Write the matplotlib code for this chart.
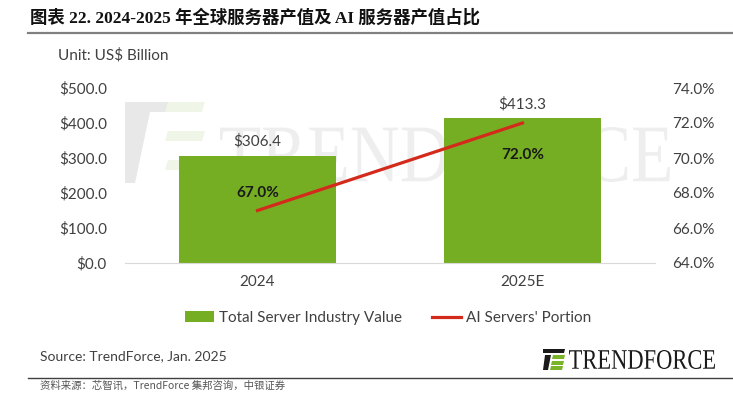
import matplotlib.pyplot as plt
import numpy as np
from matplotlib.textpath import TextPath
from matplotlib.patches import PathPatch, Polygon
from matplotlib.transforms import Affine2D, IdentityTransform
from matplotlib.font_manager import FontProperties
from matplotlib.lines import Line2D
from matplotlib.patches import Patch

years = ['2024', '2025E']
server_value = [306.4, 413.3]
ai_portion = [67.0, 72.0]
value_labels = ['$306.4', '$413.3']
portion_labels = ['67.0%', '72.0%']

green = '#75ae22'
red = '#d42a1c'
txt = '#404040'
font = 'Lato'

W, H = 733, 394
fig = plt.figure(figsize=(W / 100, H / 100), dpi=100)


def word(text, x0, y0, w, h, color, family='Liberation Serif', zorder=0, alpha=1.0):
    # text stretched into a pixel box (top-left origin)
    tp = TextPath((0, 0), text, size=1, prop=FontProperties(family=family))
    bb = tp.get_extents()
    tr = Affine2D().translate(-bb.x0, -bb.y0).scale(w / bb.width, h / bb.height).translate(x0, H - y0 - h)
    fig.patches.append(PathPatch(tr.transform_path(tp), transform=IdentityTransform(),
                                 fc=color, ec='none', zorder=zorder, alpha=alpha))


def poly(pts, color, zorder=0, alpha=1.0):
    pts = [(x, H - y) for x, y in pts]
    fig.patches.append(Polygon(pts, closed=True, transform=IdentityTransform(),
                               fc=color, ec='none', zorder=zorder, alpha=alpha))


# watermark
poly([(125, 102), (175, 102), (170, 112), (150, 112), (135, 183), (125, 183)], '#e8e8e8')
for yy in (102, 131, 160):
    poly([(168, yy), (205, yy), (202, yy + 10), (165, yy + 10)], '#f0f6e7')
word('TRENDFORCE', 220, 127, 450, 55, '#eeeeee')

ax = fig.add_axes([125 / W, 1 - 263 / H, 530 / W, 175 / H])
ax.set_zorder(2)
ax.patch.set_alpha(0)
x = np.arange(len(years))
ax.bar(x, server_value, width=0.59, color=green, zorder=2)
ax.set_xlim(-0.5, 1.5)
ax.set_ylim(0, 500)
ax.set_yticks(np.arange(0, 501, 100))
ax.set_yticklabels(['${:.1f}'.format(v) for v in np.arange(0, 501, 100)])
ax.set_xticks(x)
ax.set_xticklabels(years)
for s in ['top', 'right', 'left']:
    ax.spines[s].set_visible(False)
ax.spines['bottom'].set_color('#d9d9d9')
ax.tick_params(axis='y', length=0, pad=13, labelsize=11, labelcolor=txt)
ax.tick_params(axis='x', length=0, pad=9, labelsize=11, labelcolor=txt)
for lab in ax.get_xticklabels() + ax.get_yticklabels():
    lab.set_fontfamily(font)

ax2 = ax.twinx()
ax2.plot(x, ai_portion, color=red, lw=2.3, zorder=3)
ax2.set_ylim(64, 74)
ax2.set_yticks(np.arange(64, 74.1, 2))
ax2.set_yticklabels(['{:.1f}%'.format(v) for v in np.arange(64, 74.1, 2)])
for s in ax2.spines.values():
    s.set_visible(False)
ax2.tick_params(axis='y', length=0, pad=12, labelsize=11, labelcolor=txt)
for lab in ax2.get_yticklabels():
    lab.set_fontfamily(font)

for i in range(len(years)):
    ax.text(x[i], server_value[i] + 20, value_labels[i], ha='center', va='bottom',
            fontsize=11, color=txt, family=font)

ax2.text(x[0], ai_portion[0] + 1.0, portion_labels[0], ha='center', va='center',
         fontsize=11, fontweight='bold', color='#1a1a1a', family=font)
ax2.text(x[1], ai_portion[1] - 1.85, portion_labels[1], ha='center', va='center',
         fontsize=11, fontweight='bold', color='#1a1a1a', family=font)

handles = [Patch(fc=green, ec='none'), Line2D([], [], color=red, lw=2.3)]
fig.legend(handles, ['Total Server Industry Value', "AI Servers' Portion"],
           loc='center', bbox_to_anchor=(388 / W, 1 - 318 / H), ncol=2, frameon=False,
           prop={'family': font, 'size': 11}, labelcolor=txt,
           handlelength=1.9, handleheight=0.7, handletextpad=0.3, columnspacing=2.0)

fig.text(58 / W, 1 - 55 / H, 'Unit: US$ Billion', fontsize=11, color=txt, family=font, va='center')
fig.text(40 / W, 1 - 356 / H, 'Source: TrendForce, Jan. 2025', fontsize=10, color=txt,
         family=font, va='center')

# title and rules
fig.text(30 / W, 1 - 18 / H, '图表 22. 2024-2025 年全球服务器产值及 AI 服务器产值占比',
         fontsize=12.5, fontweight='bold', color='#111111',
         family=['Liberation Serif', 'Noto Sans CJK SC'], va='center')
fig.add_artist(Line2D([28 / W, 1], [1 - 33 / H] * 2, color='#808080', lw=1.6))
fig.add_artist(Line2D([28 / W, 1], [1 - 378 / H] * 2, color='#404040', lw=1.0))
fig.text(40 / W, 1 - 386 / H, '资料来源：芯智讯，TrendForce 集邦咨询，中银证券', fontsize=7.5,
         color='#555555', family=['Noto Sans CJK SC', 'DejaVu Sans'], va='center')

# bottom logo
poly([(543, 349), (565, 349), (564, 353), (543, 353)], '#1a1a1a', zorder=3)
poly([(545, 355), (551, 355), (548, 370), (543, 370)], '#1a1a1a', zorder=3)
poly([(553, 355), (565, 355), (564, 359), (552, 359)], '#7ab428', zorder=3)
poly([(552, 361), (564, 361), (563, 365), (551, 365)], '#7ab428', zorder=3)
poly([(551, 366), (563, 366), (562, 370), (550, 370)], '#7ab428', zorder=3)
word('TRENDFORCE', 569, 350, 146, 19, '#1a1a1a', zorder=3)

fig.savefig('out.png', dpi=100)
